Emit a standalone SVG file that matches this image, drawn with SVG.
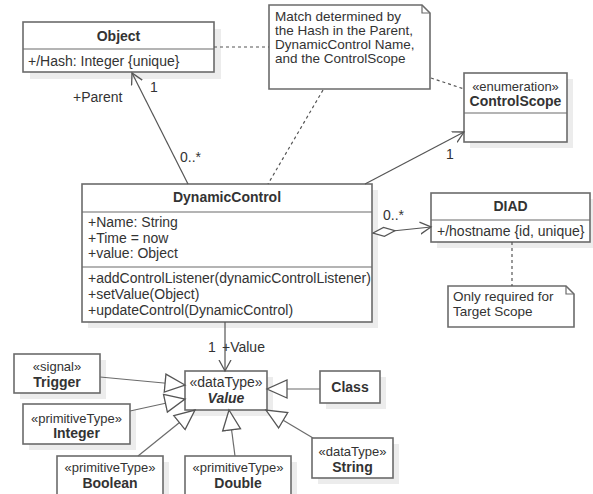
<svg xmlns="http://www.w3.org/2000/svg" width="593" height="494" viewBox="0 0 593 494">
<style>
text{font-family:"Liberation Sans",Arial,sans-serif;font-size:14px;fill:#333}
.b{font-weight:bold}
.c{text-anchor:middle}
.s{font-size:13px}
.n{font-size:13.5px}
.bi{font-weight:bold;font-style:italic}
.box{fill:#fff;stroke:#6b6b6b;stroke-width:1.6}
.sh{fill:#ececec}
.ln{fill:none;stroke:#6b6b6b;stroke-width:1.2}
.as{fill:none;stroke:#555;stroke-width:1.2}
.dash{fill:none;stroke:#555;stroke-width:1.2;stroke-dasharray:3,3}
</style>
<defs>
<marker id="open" markerUnits="userSpaceOnUse" markerWidth="14" markerHeight="14" refX="11" refY="6" orient="auto" viewBox="0 0 14 12">
<path d="M0,0 L11,6 L0,12" fill="none" stroke="#555" stroke-width="1.3"/>
</marker>
<marker id="tri" markerUnits="userSpaceOnUse" markerWidth="24" markerHeight="22" refX="21" refY="10" orient="auto" viewBox="0 0 24 20">
<path d="M1,1 L21,10 L1,19 Z" fill="#fff" stroke="#555" stroke-width="1.3"/>
</marker>
<marker id="dia" markerUnits="userSpaceOnUse" markerWidth="26" markerHeight="12" refX="1" refY="5.5" orient="auto" viewBox="0 0 26 11">
<path d="M1,5.5 L12,1 L23,5.5 L12,10 Z" fill="#fff" stroke="#555" stroke-width="1.3"/>
</marker>
</defs>

<g id="Object">
<rect class="sh" x="30" y="29" width="191" height="50"/>
<rect class="box" x="23" y="22" width="191" height="50"/>
<line class="ln" x1="23" y1="49" x2="214" y2="49"/>
<text class="b c" x="118.5" y="41">Object</text>
<text x="28" y="66">+/Hash: Integer {unique}</text>
</g>

<g id="note1">
<path class="box" d="M269,5 H422 L430,13 V89 H269 Z"/>
<path class="ln" d="M422,5 V13 H430"/>
<text class="n" x="275" y="21">Match determined by</text>
<text class="n" x="275" y="35">the Hash in the Parent,</text>
<text class="n" x="275" y="49">DynamicControl Name,</text>
<text class="n" x="275" y="63">and the ControlScope</text>
</g>

<g id="ControlScope">
<rect class="sh" x="470" y="79" width="103" height="69"/>
<rect class="box" x="464" y="73" width="103" height="69"/>
<line class="ln" x1="464" y1="113" x2="567" y2="113"/>
<text class="c s" x="515.5" y="91">«enumeration»</text>
<text class="b c" x="515.5" y="106">ControlScope</text>
</g>

<g id="DynamicControl">
<rect class="sh" x="88" y="190" width="290" height="138"/>
<rect class="box" x="82" y="184" width="290" height="138"/>
<line class="ln" x1="82" y1="212" x2="372" y2="212"/>
<line class="ln" x1="82" y1="267" x2="372" y2="267"/>
<text class="b c" x="227" y="202">DynamicControl</text>
<text x="88" y="227">+Name: String</text>
<text x="88" y="243">+Time = now</text>
<text x="88" y="258">+value: Object</text>
<text x="88" y="283">+addControlListener(dynamicControlListener)</text>
<text x="88" y="299">+setValue(Object)</text>
<text x="88" y="315">+updateControl(DynamicControl)</text>
</g>

<g id="DIAD">
<rect class="sh" x="437" y="199" width="159" height="49"/>
<rect class="box" x="431" y="193" width="159" height="49"/>
<line class="ln" x1="431" y1="220" x2="590" y2="220"/>
<text class="b c" x="510.5" y="211">DIAD</text>
<text x="437" y="236">+/hostname {id, unique}</text>
</g>

<g id="note2">
<path class="box" d="M448,286 H566 L574,294 V327 H448 Z"/>
<path class="ln" d="M566,286 V294 H574"/>
<text class="n" x="453" y="301">Only required for</text>
<text class="n" x="453" y="316">Target Scope</text>
</g>

<g id="Value">
<rect class="sh" x="191" y="377" width="82" height="39"/>
<rect class="box" x="185" y="371" width="82" height="39"/>
<text class="c" x="226" y="387">«dataType»</text>
<text class="bi c" x="226" y="403">Value</text>
</g>

<g id="Trigger">
<rect class="sh" x="20" y="360" width="86" height="39"/>
<rect class="box" x="14" y="354" width="86" height="39"/>
<text class="c s" x="57" y="371">«signal»</text>
<text class="b c" x="57" y="387">Trigger</text>
</g>

<g id="Integer">
<rect class="sh" x="29" y="410" width="107" height="40"/>
<rect class="box" x="23" y="404" width="107" height="40"/>
<text class="c s" x="76.5" y="423">«primitiveType»</text>
<text class="b c" x="76.5" y="438">Integer</text>
</g>

<g id="Boolean">
<rect class="sh" x="63" y="462" width="106" height="40"/>
<rect class="box" x="57" y="456" width="106" height="46"/>
<text class="c s" x="110" y="472">«primitiveType»</text>
<text class="b c" x="110" y="488">Boolean</text>
</g>

<g id="Double">
<rect class="sh" x="191" y="462" width="106" height="40"/>
<rect class="box" x="185" y="456" width="106" height="46"/>
<text class="c s" x="238" y="472">«primitiveType»</text>
<text class="b c" x="238" y="488">Double</text>
</g>

<g id="Class">
<rect class="sh" x="326" y="377" width="60" height="32"/>
<rect class="box" x="320" y="371" width="60" height="32"/>
<text class="b c" x="350" y="392">Class</text>
</g>

<g id="String">
<rect class="sh" x="318" y="444" width="81" height="40"/>
<rect class="box" x="312" y="438" width="81" height="40"/>
<text class="c s" x="352.5" y="456">«dataType»</text>
<text class="b c" x="352.5" y="472">String</text>
</g>

<g id="connectors">
<line class="as" x1="188" y1="184" x2="132" y2="73" marker-end="url(#open)"/>
<line class="as" x1="365" y1="184" x2="464" y2="132" marker-end="url(#open)"/>
<line class="as" x1="373" y1="233" x2="431" y2="227" marker-start="url(#dia)" marker-end="url(#open)"/>
<line class="as" x1="225" y1="322" x2="225" y2="371" marker-end="url(#open)"/>
<line class="dash" x1="214" y1="47" x2="269" y2="47"/>
<line class="dash" x1="431" y1="78" x2="464" y2="89"/>
<line class="dash" x1="323" y1="90" x2="268" y2="184"/>
<line class="dash" x1="512" y1="242" x2="512" y2="286"/>
<line class="ln" x1="100" y1="377" x2="185" y2="385" marker-end="url(#tri)"/>
<line class="ln" x1="130" y1="411" x2="185" y2="399" marker-end="url(#tri)"/>
<line class="ln" x1="138" y1="456" x2="195" y2="410" marker-end="url(#tri)"/>
<line class="ln" x1="235" y1="456" x2="229" y2="410" marker-end="url(#tri)"/>
<line class="ln" x1="320" y1="389" x2="267" y2="389" marker-end="url(#tri)"/>
<line class="ln" x1="313" y1="438" x2="266" y2="410" marker-end="url(#tri)"/>
<text x="73" y="102">+Parent</text>
<text x="150" y="92">1</text>
<text x="180" y="162">0..*</text>
<text x="446" y="159">1</text>
<text x="383" y="220">0..*</text>
<text x="208" y="352">1</text>
<text x="222" y="352">+Value</text>
</g>
</svg>
